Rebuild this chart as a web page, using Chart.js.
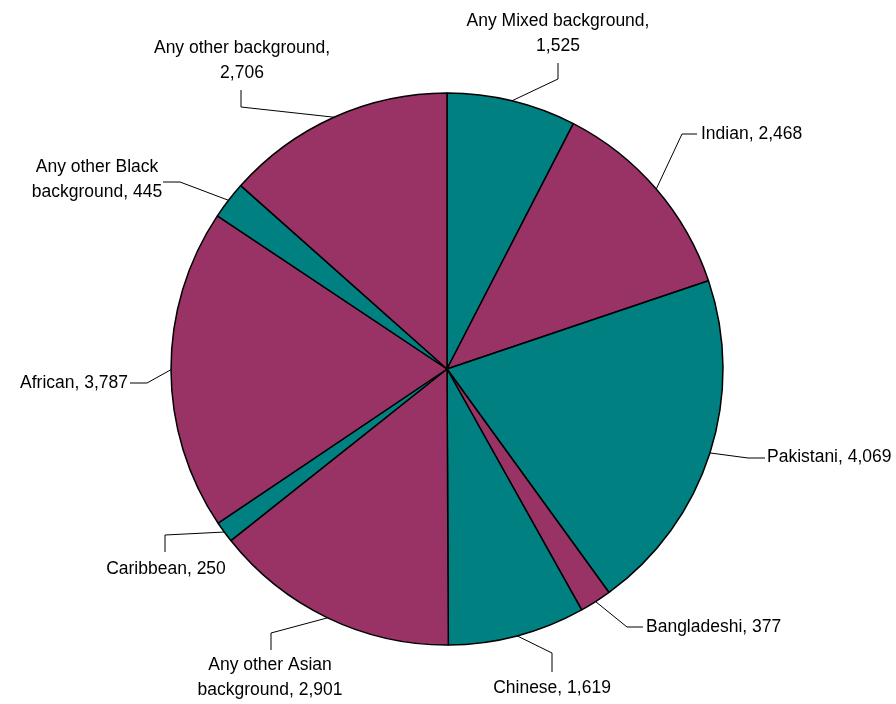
<!DOCTYPE html>
<html>
<head>
<meta charset="utf-8">
<script src="https://cdn.jsdelivr.net/npm/chart.js@4/dist/chart.umd.min.js"></script>
<style>
  html, body { margin: 0; padding: 0; background: #fff; }
  #wrap { width: 896px; height: 704px; position: relative; }
</style>
</head>
<body>
<div id="wrap"><canvas id="ethnicityPie" width="896" height="704"></canvas></div>
<script>
const categories = [
  'Any Mixed background', 'Indian', 'Pakistani', 'Bangladeshi', 'Chinese',
  'Any other Asian background', 'Caribbean', 'African',
  'Any other Black background', 'Any other background'
];
const counts = [1525, 2468, 4069, 377, 1619, 2901, 250, 3787, 445, 2706];
const sliceColours = ['#008080', '#993366'];

// label text lines (the number comes from counts)
const labelLines = [
  ['Any Mixed background,', '{v}'],
  ['Indian, {v}'],
  ['Pakistani, {v}'],
  ['Bangladeshi, {v}'],
  ['Chinese, {v}'],
  ['Any other Asian', 'background, {v}'],
  ['Caribbean, {v}'],
  ['African, {v}'],
  ['Any other Black', 'background, {v}'],
  ['Any other background,', '{v}']
];

// where each callout sits: elbow, line end, text anchor
const callouts = [
  { elbow: [558, 79],  end: [558, 63],  text: [558, 21],  align: 'center' },
  { elbow: [682, 134], end: [697, 134], text: [701, 134], align: 'left' },
  { elbow: [748, 458], end: [765, 458], text: [767, 457], align: 'left' },
  { elbow: [627, 627], end: [643, 627], text: [646, 627], align: 'left' },
  { elbow: [552, 653], end: [552, 672], text: [552, 688], align: 'center' },
  { elbow: [271, 633], end: [271, 650], text: [270, 665], align: 'center' },
  { elbow: [165, 535], end: [165, 552], text: [166, 569], align: 'center' },
  { elbow: [147, 383], end: [130, 383], text: [128, 383], align: 'right' },
  { elbow: [180, 182], end: [163, 182], text: [97, 167],  align: 'center' },
  { elbow: [241, 107], end: [241, 90],  text: [242, 48],  align: 'center' }
];

const fmt = n => n.toLocaleString('en-GB');

const calloutPlugin = {
  id: 'callouts',
  afterDatasetsDraw(chart) {
    const ctx = chart.ctx;
    const arcs = chart.getDatasetMeta(0).data;
    ctx.save();
    ctx.font = '17.5px "Liberation Sans", Arial, sans-serif';
    ctx.fillStyle = '#000';
    ctx.strokeStyle = '#000';
    ctx.lineWidth = 1;
    ctx.textBaseline = 'middle';
    arcs.forEach((arc, i) => {
      const { x, y, startAngle, endAngle, outerRadius } = arc.getProps(['x', 'y', 'startAngle', 'endAngle', 'outerRadius'], true);
      const mid = (startAngle + endAngle) / 2;
      const sx = x + Math.cos(mid) * outerRadius;
      const sy = y + Math.sin(mid) * outerRadius;
      const c = callouts[i];
      ctx.beginPath();
      ctx.moveTo(sx, sy);
      ctx.lineTo(c.elbow[0], c.elbow[1]);
      ctx.lineTo(c.end[0], c.end[1]);
      ctx.stroke();
      ctx.textAlign = c.align;
      labelLines[i].forEach((line, j) => {
        ctx.fillText(line.replace('{v}', fmt(counts[i])), c.text[0], c.text[1] + j * 25);
      });
    });
    ctx.restore();
  }
};

new Chart(document.getElementById('ethnicityPie'), {
  type: 'pie',
  data: {
    labels: categories,
    datasets: [{
      data: counts,
      backgroundColor: counts.map((_, i) => sliceColours[i % 2]),
      borderColor: '#000',
      borderWidth: 1.5,
      radius: 276
    }]
  },
  options: {
    responsive: false,
    animation: false,
    layout: { padding: { left: 0, right: 2, top: 34, bottom: 0 } },
    plugins: {
      legend: { display: false },
      tooltip: { enabled: false }
    }
  },
  plugins: [calloutPlugin]
});
</script>
</body>
</html>
